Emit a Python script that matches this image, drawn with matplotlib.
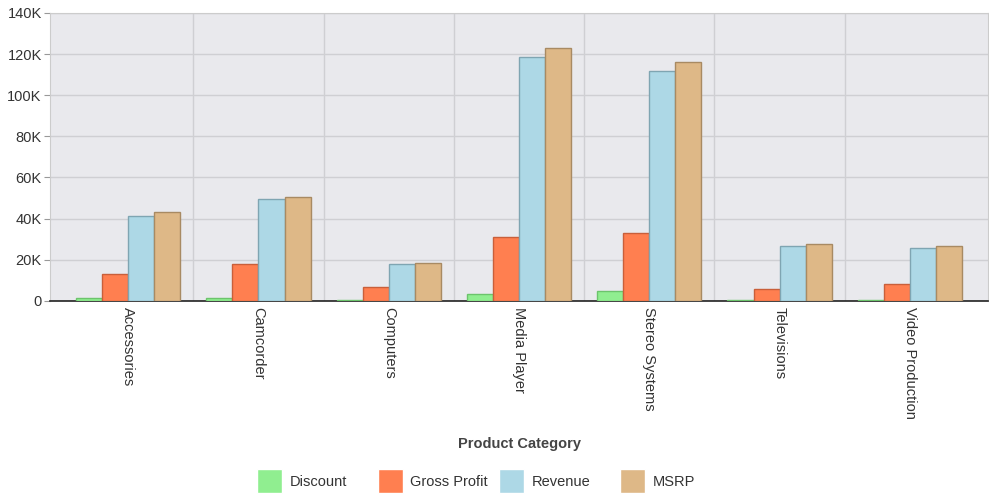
import numpy as np
import matplotlib as mpl
from matplotlib import pyplot as plt
from matplotlib.ticker import FuncFormatter, MultipleLocator

categories = ["Accessories", "Camcorder", "Computers", "Media Player",
              "Stereo Systems", "Televisions", "Video Production"]
discount = [1.3, 1.3, 0.6, 3.5, 4.7, 0.5, 0.5]
gross_profit = [13.0, 18.1, 6.6, 31.0, 32.9, 5.8, 8.3]
revenue = [41.5, 49.6, 18.1, 118.6, 111.7, 26.9, 25.8]
msrp = [43.3, 50.7, 18.6, 122.7, 116.3, 27.6, 26.9]

series = [
    ("Discount", discount, "#90ee90", "#6cc46c"),
    ("Gross Profit", gross_profit, "#ff7f50", "#c95f3a"),
    ("Revenue", revenue, "#add8e6", "#7fa5b2"),
    ("MSRP", msrp, "#deb887", "#a88a63"),
]

mpl.rcParams["font.family"] = ["Liberation Sans", "DejaVu Sans"]
mpl.rcParams["font.size"] = 10.5

fig = plt.figure(figsize=(9.89, 4.95), dpi=100)
ax = fig.add_axes([0.0506, 0.392, 0.9484, 0.582])
ax.set_facecolor("#e9e9ed")

x = np.arange(len(categories))
width = 0.2
handles = []
for i, (name, values, color, edge) in enumerate(series):
    offset = (i - 1.5) * width
    bars = ax.bar(x + offset, values, width, color=color, edgecolor=edge,
                  linewidth=1.0, label=name, zorder=3)
    handles.append(bars)

ax.set_xlim(-0.6, len(categories) - 0.4)
ax.set_ylim(0, 140)
ax.yaxis.set_major_locator(MultipleLocator(20))
ax.yaxis.set_major_formatter(FuncFormatter(lambda v, _: "0" if v == 0 else f"{int(v)}K"))

# gridlines: horizontal at ticks, vertical at category boundaries
ax.grid(axis="y", color="#cfcfd3", linewidth=1.0, zorder=0)
for b in np.arange(0.5, len(categories) - 0.5, 1):
    ax.axvline(b, color="#cfcfd3", linewidth=1.0, zorder=0)

ax.set_xticks(x)
ax.set_xticklabels(categories, rotation=270, color="#333333")
ax.tick_params(axis="x", length=0, pad=4)
ax.tick_params(axis="y", length=4, color="#999999", labelcolor="#333333", pad=2)

for side in ["top", "right", "left"]:
    ax.spines[side].set_color("#cccccc")
ax.spines["bottom"].set_color("#222222")
ax.spines["bottom"].set_linewidth(1.2)
ax.spines["bottom"].set_zorder(2.5)

fig.text(0.525, 0.103, "Product Category", ha="center", va="center",
         fontsize=10.5, fontweight="bold", color="#444444")

# legend: one fixed-width slot per series
slot_left = 0.258
slot_step = 0.1225
for i, (h, (name, *_)) in enumerate(zip(handles, series)):
    leg = fig.legend([h], [name], loc="center left",
                     bbox_to_anchor=(slot_left + i * slot_step - 0.006, 0.028),
                     frameon=False, handlelength=1.75, handleheight=2.1,
                     handletextpad=0.5, fontsize=10.5, borderpad=0.0)
    for t in leg.get_texts():
        t.set_color("#333333")
    for p in leg.get_patches():
        p.set_edgecolor("white")

fig.savefig("out.png", dpi=100)
